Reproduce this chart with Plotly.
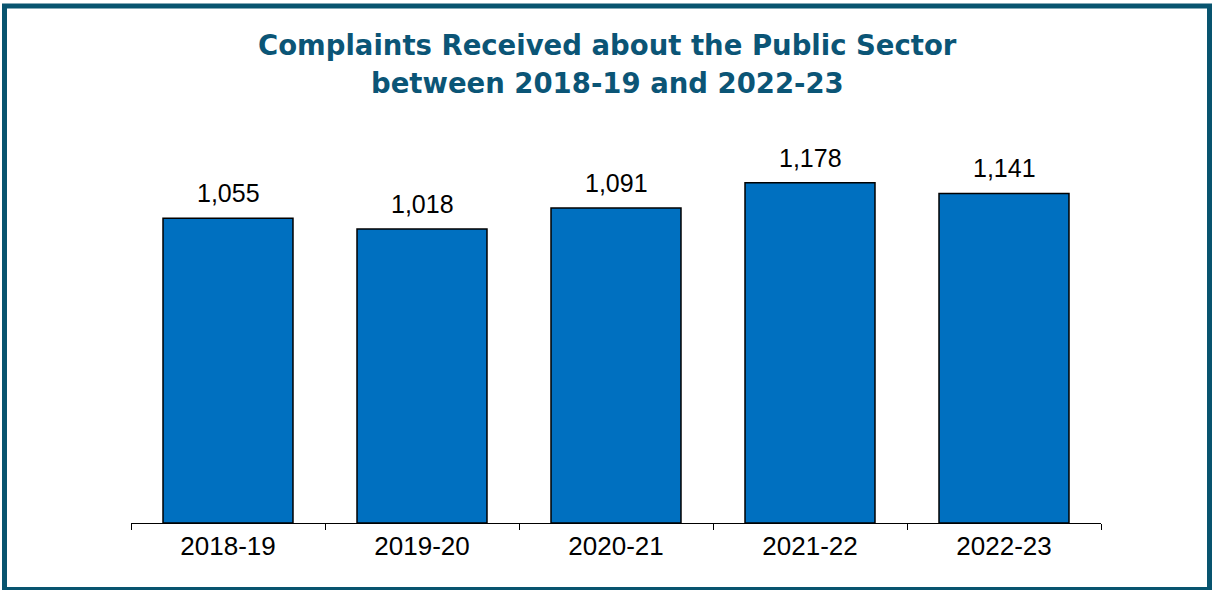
import plotly.graph_objects as go

years = ["2018-19", "2019-20", "2020-21", "2021-22", "2022-23"]
complaints = [1055, 1018, 1091, 1178, 1141]
title_lines = ["Complaints Received about the Public Sector", "between 2018-19 and 2022-23"]

W, H = 1212, 590
L, R, T, B = 131, 111, 130, 67
pw, ph = W - L - R, H - T - B

def px_x(x):
    return (x - L) / pw

def px_y(y):
    return (H - B - y) / ph

fig = go.Figure(go.Bar(
    x=years, y=complaints,
    marker=dict(color="#0070C0", line=dict(color="#000000", width=1.5)),
    cliponaxis=False,
))

title_font = dict(family="DejaVu Sans, sans-serif", size=27.5, color="#0B5576", weight="bold")
annotations = [
    dict(text=title_lines[0], xref="paper", yref="paper", x=px_x(607), y=px_y(45),
         xanchor="center", yanchor="middle", showarrow=False, font=title_font),
    dict(text=title_lines[1], xref="paper", yref="paper", x=px_x(607), y=px_y(83),
         xanchor="center", yanchor="middle", showarrow=False, font=title_font),
]
for yr, v in zip(years, complaints):
    annotations.append(dict(text=f"{v:,}", x=yr, y=v, xref="x", yref="y",
                            xanchor="center", yanchor="bottom", yshift=9, showarrow=False,
                            font=dict(family="Liberation Sans, Arial", size=25, color="#000000")))

fig.update_layout(
    width=W, height=H,
    margin=dict(l=L, r=R, t=T, b=B),
    paper_bgcolor="white", plot_bgcolor="white",
    bargap=0.33,
    showlegend=False,
    annotations=annotations,
    xaxis=dict(showline=True, linecolor="#000000", linewidth=1.2,
               ticks="outside", tickson="boundaries", ticklen=6, tickcolor="#000000", tickwidth=1.2,
               tickfont=dict(family="Liberation Sans, Arial", size=26, color="#000000"),
               showgrid=False),
    yaxis=dict(visible=False, range=[0, ph / 0.2888]),
    shapes=[dict(type="rect", xref="paper", yref="paper",
                 x0=px_x(4.5), x1=px_x(1209.5), y0=px_y(589.5), y1=px_y(6),
                 line=dict(color="#08546F", width=5), fillcolor="rgba(0,0,0,0)", layer="above")],
)

fig.write_html("out.html")
